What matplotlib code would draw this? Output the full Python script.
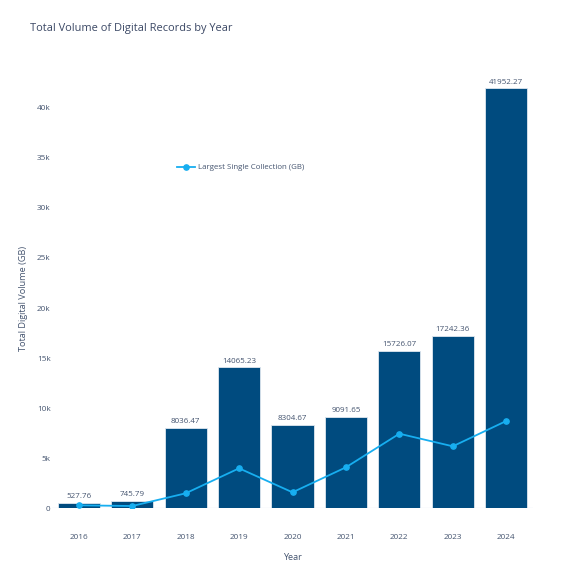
import matplotlib.pyplot as plt
from matplotlib.lines import Line2D

plt.rcParams['font.family'] = ['Open Sans', 'DejaVu Sans']

# data
years = ['2016', '2017', '2018', '2019', '2020', '2021', '2022', '2023', '2024']
total_volume = [527.76, 745.79, 8036.47, 14065.23, 8304.67, 9091.65, 15726.07, 17242.36, 41952.27]
largest_collection = [270, 200, 1470, 3970, 1570, 4070, 7430, 6170, 8700]
y_ticks = [0, 5000, 10000, 15000, 20000, 25000, 30000, 35000, 40000]
y_tick_labels = ['0', '5k', '10k', '15k', '20k', '25k', '30k', '35k', '40k']

bar_color = '#004b7f'
line_color = '#17aef0'
text_color = '#44546f'

fig = plt.figure(figsize=(5.85, 5.85), dpi=100)
ax = fig.add_axes([0.089, 0.1316, 0.822, 0.7556])

x = range(len(years))
bars = ax.bar(x, total_volume, width=0.79, color=bar_color, edgecolor='#dfe7f0', linewidth=0.6, zorder=2)
for xi, v in zip(x, total_volume):
    ax.annotate(f'{v:.2f}', (xi, v), xytext=(0, 2), textcoords='offset points',
                ha='center', va='bottom', fontsize=5.8, color=text_color)

ax.plot(x, largest_collection, color=line_color, linewidth=1.3, marker='o', markersize=3.8, zorder=3)

ax.set_xlim(-0.5, len(years) - 0.5)
ax.set_ylim(0, 44200)
ax.set_xticks(list(x))
ax.set_xticklabels(years)
ax.set_yticks(y_ticks)
ax.set_yticklabels(y_tick_labels)
ax.tick_params(axis='both', length=0, labelsize=5.9, labelcolor=text_color)
ax.tick_params(axis='x', pad=19)
ax.tick_params(axis='y', pad=1)
ax.axhline(0, color='#e6ecf5', linewidth=1, zorder=1)
for s in ax.spines.values():
    s.set_visible(False)

ax.set_xlabel('Year', fontsize=6.6, color=text_color, labelpad=8)
ax.set_ylabel('Total Digital Volume (GB)', fontsize=6.6, color=text_color)
ax.yaxis.set_label_coords(-0.050, 0.473)

handle = Line2D([], [], color=line_color, linewidth=1.3, marker='o', markersize=3.8)
ax.legend([handle], ['Largest Single Collection (GB)'], loc='center left', bbox_to_anchor=(0.245, 0.77),
          frameon=False, fontsize=5.7, labelcolor=text_color, handlelength=2.3, handletextpad=0.4)

fig.text(30 / 585, 1 - 28 / 585, 'Total Volume of Digital Records by Year', fontsize=7.9,
         color='#3a4764', ha='left', va='center')

fig.savefig('out.png', dpi=100, facecolor='white')
